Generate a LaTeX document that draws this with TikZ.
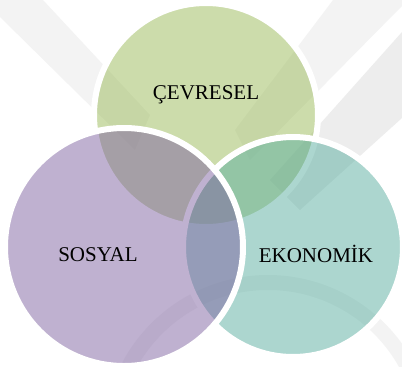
\documentclass[tikz,border=0pt]{standalone}
\usepackage{fontspec}
\setmainfont{Liberation Serif}
\definecolor{vgreen}{RGB}{155,187,89}
\definecolor{vpurple}{RGB}{128,100,162}
\definecolor{vteal}{RGB}{91,175,161}
\definecolor{wmA}{RGB}{243,243,243}
\definecolor{wmB}{RGB}{237,237,237}
\tikzset{
  vcirc/.style={circle, draw=white, line width=6bp, fill opacity=0.5, draw opacity=1, inner sep=0pt, outer sep=0pt},
  vlabel/.style={font=\fontsize{21bp}{25bp}\selectfont, text=black, inner sep=0pt},
  wm/.style={draw=none}
}
\begin{document}
\begin{tikzpicture}[x=1bp,y=-1bp]
\useasboundingbox (0,0) rectangle (402,367);
\fill[white] (0,0) rectangle (402,367);
\begin{scope}
\clip (0,0) rectangle (402,367);
% faint watermark
\fill[wmA] (0,0) -- (43,0) -- (150,115) -- (135,150) -- (0,17) -- cycle;
\fill[wmA] (333,0) -- (402,0) -- (402,6) -- (250,160) -- (235,130) -- cycle;
\fill[wmB] (402,32) -- (402,118) -- (300,210) -- (270,180) -- cycle;
\fill[white] (387,143) -- (402,128) -- (402,160) -- cycle;
\fill[wmA, even odd rule] (268,440) circle (165bp) (268,440) circle (150bp);
\end{scope}
% circles
\node[vcirc, fill=vgreen, minimum size=224bp] (env) at (206,115) {};
\node[vcirc, fill=vteal, minimum size=220bp] (eco) at (293,247) {};
\node[vcirc, fill=vpurple, minimum size=238bp] (soc) at (124,247) {};
% labels
\node[vlabel] (lenv) at (206,95) {ÇEVRESEL};
\node[vlabel] (lsoc) at (98,255) {SOSYAL};
\node[vlabel] (leco) at (316,254) {EKONOMİK};
\end{tikzpicture}
\end{document}
